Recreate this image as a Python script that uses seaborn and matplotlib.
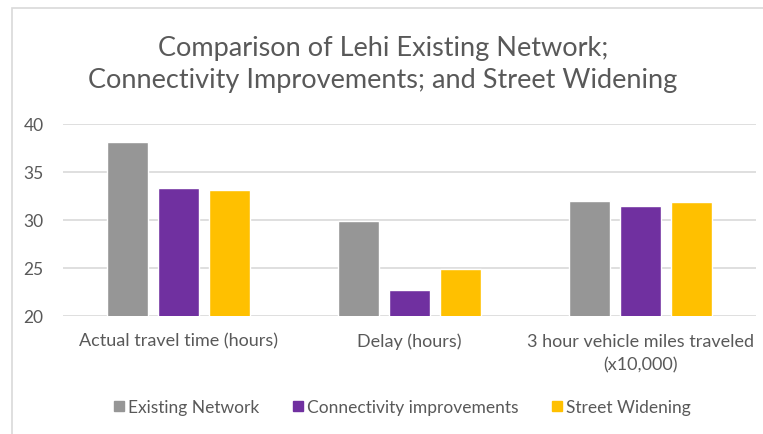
import matplotlib
matplotlib.use("Agg")
import matplotlib.pyplot as plt
from matplotlib.patches import Rectangle
from matplotlib.lines import Line2D
import pandas as pd
import seaborn as sns

categories = ["Actual travel time (hours)", "Delay (hours)",
              "3 hour vehicle miles traveled\n(x10,000)"]
series_names = ["Existing Network", "Connectivity improvements", "Street Widening"]
existing_network = [38.1, 29.9, 32.0]
connectivity_improvements = [33.3, 22.7, 31.4]
street_widening = [33.1, 24.9, 31.9]
colors = ["#969696", "#7030A0", "#FFC000"]
y_ticks = [20, 25, 30, 35, 40]
title = "Comparison of Lehi Existing Network;\nConnectivity Improvements; and Street Widening"

rows = []
for name, values in zip(series_names,
                        [existing_network, connectivity_improvements, street_widening]):
    for cat, v in zip(categories, values):
        rows.append({"category": cat, "scenario": name, "value": v})
df = pd.DataFrame(rows)

sns.set_theme(style="white")
plt.rcParams["font.family"] = ["Lato", "DejaVu Sans"]
text_color = "#595959"

fig = plt.figure(figsize=(7.63, 4.35), dpi=100)
ax = fig.add_axes([0.0826, 0.2713, 0.9082, 0.442])

sns.barplot(data=df, x="category", y="value", hue="scenario",
            order=categories, hue_order=series_names, palette=colors,
            width=0.663, gap=0.21, saturation=1, ax=ax, legend=False)

ax.set_ylim(20, 40)
ax.set_xlim(-0.5, 2.5)
ax.set_yticks(y_ticks)
ax.yaxis.grid(True, color="#D9D9D9", linewidth=1.2)
ax.set_axisbelow(True)
for s in ax.spines.values():
    s.set_visible(False)
ax.set_xlabel("")
ax.set_ylabel("")
ax.tick_params(axis="y", length=0, labelsize=12.5, labelcolor=text_color, pad=14)
ax.tick_params(axis="x", length=0, labelsize=13, labelcolor=text_color, pad=12)
for lbl in ax.get_xticklabels():
    lbl.set_linespacing(1.6)

fig.text(0.502, 0.852, title, ha="center", va="center", fontsize=19.5,
         color=text_color, linespacing=1.35)

handles = [Line2D([0], [0], marker="s", linestyle="", markersize=7.5,
                  markerfacecolor=c, markeredgecolor=c) for c in colors]
fig.legend(handles, series_names, loc="center", bbox_to_anchor=(0.525, 0.062),
           ncol=3, frameon=False, fontsize=12.5, labelcolor=text_color,
           handletextpad=0.0, columnspacing=1.75, handlelength=1.0)

fig.patches.append(Rectangle((12 / 763, -0.1), 1.2, 1 - 9 / 435 + 0.1,
                             transform=fig.transFigure, fill=False,
                             edgecolor="#D9D9D9", linewidth=1.2))

fig.savefig("out.png", dpi=100, facecolor="white")
